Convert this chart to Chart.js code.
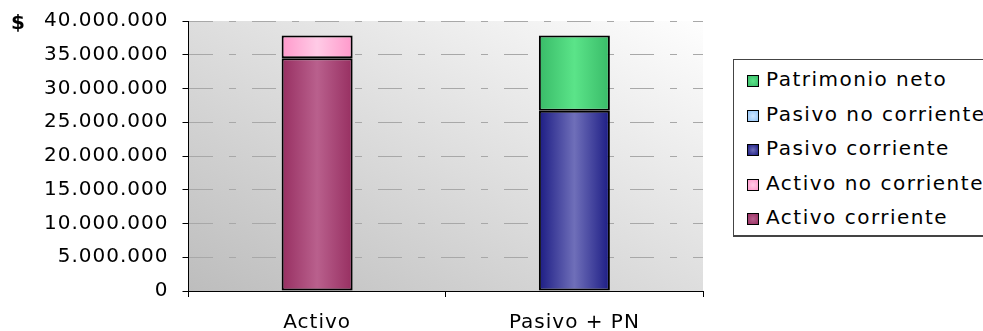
<!DOCTYPE html>
<html>
<head>
<meta charset="utf-8">
<script src="https://cdn.jsdelivr.net/npm/chart.js@4/dist/chart.umd.min.js"></script>
<style>
  html, body { margin: 0; padding: 0; background: #fff; overflow: hidden; }
  #wrap { position: relative; width: 983px; height: 331px; }
  #unit { position: absolute; left: 11px; top: 10px; font: bold 20px "DejaVu Sans", sans-serif; }
  #legend {
    position: absolute; left: 733px; top: 59px; width: 280px; height: 178px;
    border: 1px solid #444; border-bottom-width: 2px; background: #fff;
    font: 20px "DejaVu Sans", sans-serif; letter-spacing: 1.5px; color: #000;
    box-sizing: border-box; padding-top: 2px;
  }
  #legend div { height: 34.5px; line-height: 34.5px; white-space: nowrap; padding-left: 13px; }
  #legend span {
    display: inline-block; width: 10px; height: 10px; border: 1.5px solid #000;
    margin-right: 7px; vertical-align: -1px;
  }
</style>
</head>
<body>
<div id="wrap">
  <canvas id="balance"></canvas>
  <div id="unit">$</div>
  <div id="legend"></div>
</div>
<script>
const categories = ["Activo", "Pasivo + PN"];
const seriesNames = ["Activo corriente", "Activo no corriente", "Pasivo corriente", "Pasivo no corriente", "Patrimonio neto"];
const activoCorriente = [34500000, null];
const activoNoCorriente = [3350000, null];
const pasivoCorriente = [null, 26700000];
const pasivoNoCorriente = [null, 0];
const patrimonioNeto = [null, 11150000];
const yTicks = [0, 5000000, 10000000, 15000000, 20000000, 25000000, 30000000, 35000000, 40000000];

// edge colour, centre colour
const palette = [
  ["#972f61", "#b9608d"],
  ["#ff99cb", "#ffcbe6"],
  ["#1c1c84", "#6f6fb9"],
  ["#93c4f5", "#cfe6ff"],
  ["#39bb68", "#5be489"]
];

const BAR_PCT = 0.276;

function barFill(idx) {
  return (ctx) => {
    const chart = ctx.chart;
    const x = chart.scales && chart.scales.x;
    if (!x || !chart.chartArea || ctx.dataIndex === undefined) return palette[idx][0];
    const cx = x.getPixelForValue(ctx.dataIndex);
    const w = (chart.chartArea.width / categories.length) * BAR_PCT;
    const g = chart.ctx.createLinearGradient(cx - w / 2, 0, cx + w / 2, 0);
    g.addColorStop(0, palette[idx][0]);
    g.addColorStop(0.5, palette[idx][1]);
    g.addColorStop(1, palette[idx][0]);
    return g;
  };
}

const spacing = {
  id: "spacing",
  beforeUpdate(chart) { chart.ctx.letterSpacing = "1px"; },
  beforeLayout(chart) { chart.ctx.letterSpacing = "1px"; },
  beforeDraw(chart) { chart.ctx.letterSpacing = "1px"; }
};

const plotBg = {
  id: "plotBg",
  beforeDraw(chart) {
    const a = chart.chartArea;
    const c = chart.ctx;
    c.save();
    c.translate(a.left, a.top);
    c.scale(a.width, a.height);
    const g = c.createLinearGradient(0, 1, 1, 0);
    g.addColorStop(0, "#bdbdbd");
    g.addColorStop(1, "#fefefe");
    c.fillStyle = g;
    c.fillRect(0, 0, 1, 1);
    c.restore();
  }
};

const seriesData = [activoCorriente, activoNoCorriente, pasivoCorriente, pasivoNoCorriente, patrimonioNeto];

const datasets = seriesData.map((d, i) => ({
  label: seriesNames[i],
  data: d,
  backgroundColor: barFill(i),
  borderColor: "#000",
  borderWidth: 2,
  borderSkipped: false,
  barPercentage: BAR_PCT,
  categoryPercentage: 1
}));

const fmt = (v) => String(v).replace(/\B(?=(\d{3})+(?!\d))/g, ".");

Chart.defaults.font.family = '"DejaVu Sans", sans-serif';
Chart.defaults.font.size = 20;
Chart.defaults.color = "#000";

new Chart(document.getElementById("balance"), {
  type: "bar",
  data: { labels: categories, datasets: datasets },
  options: {
    responsive: true,
    maintainAspectRatio: false,
    animation: false,
    layout: { padding: { left: 30, right: 280, top: 0, bottom: -18 } },
    plugins: {
      legend: { display: false },
      tooltip: { enabled: false }
    },
    scales: {
      x: {
        stacked: true,
        grid: { drawOnChartArea: false, drawTicks: true, tickLength: 6, tickColor: "#000", offset: true },
        border: { color: "#000", width: 1 },
        ticks: { padding: 14 }
      },
      y: {
        stacked: true,
        min: 0,
        max: 40000000,
        afterBuildTicks: (axis) => { axis.ticks = yTicks.map((v) => ({ value: v })); },
        grid: {
          color: "#a8a8a8",
          tickLength: 6,
          tickColor: "#000",
          tickBorderDash: []
        },
        border: { color: "#000", width: 1, dash: [24, 16, 7, 16] },
        ticks: { padding: 14, font: { lineHeight: 0.7 }, callback: (v) => fmt(v) }
      }
    }
  },
  plugins: [spacing, plotBg]
});

// legend, top entry first as in the original
const legend = document.getElementById("legend");
for (let i = seriesNames.length - 1; i >= 0; i--) {
  const row = document.createElement("div");
  const box = document.createElement("span");
  box.style.background = "radial-gradient(" + palette[i][1] + ", " + palette[i][0] + ")";
  row.appendChild(box);
  row.appendChild(document.createTextNode(seriesNames[i]));
  legend.appendChild(row);
}
</script>
</body>
</html>
